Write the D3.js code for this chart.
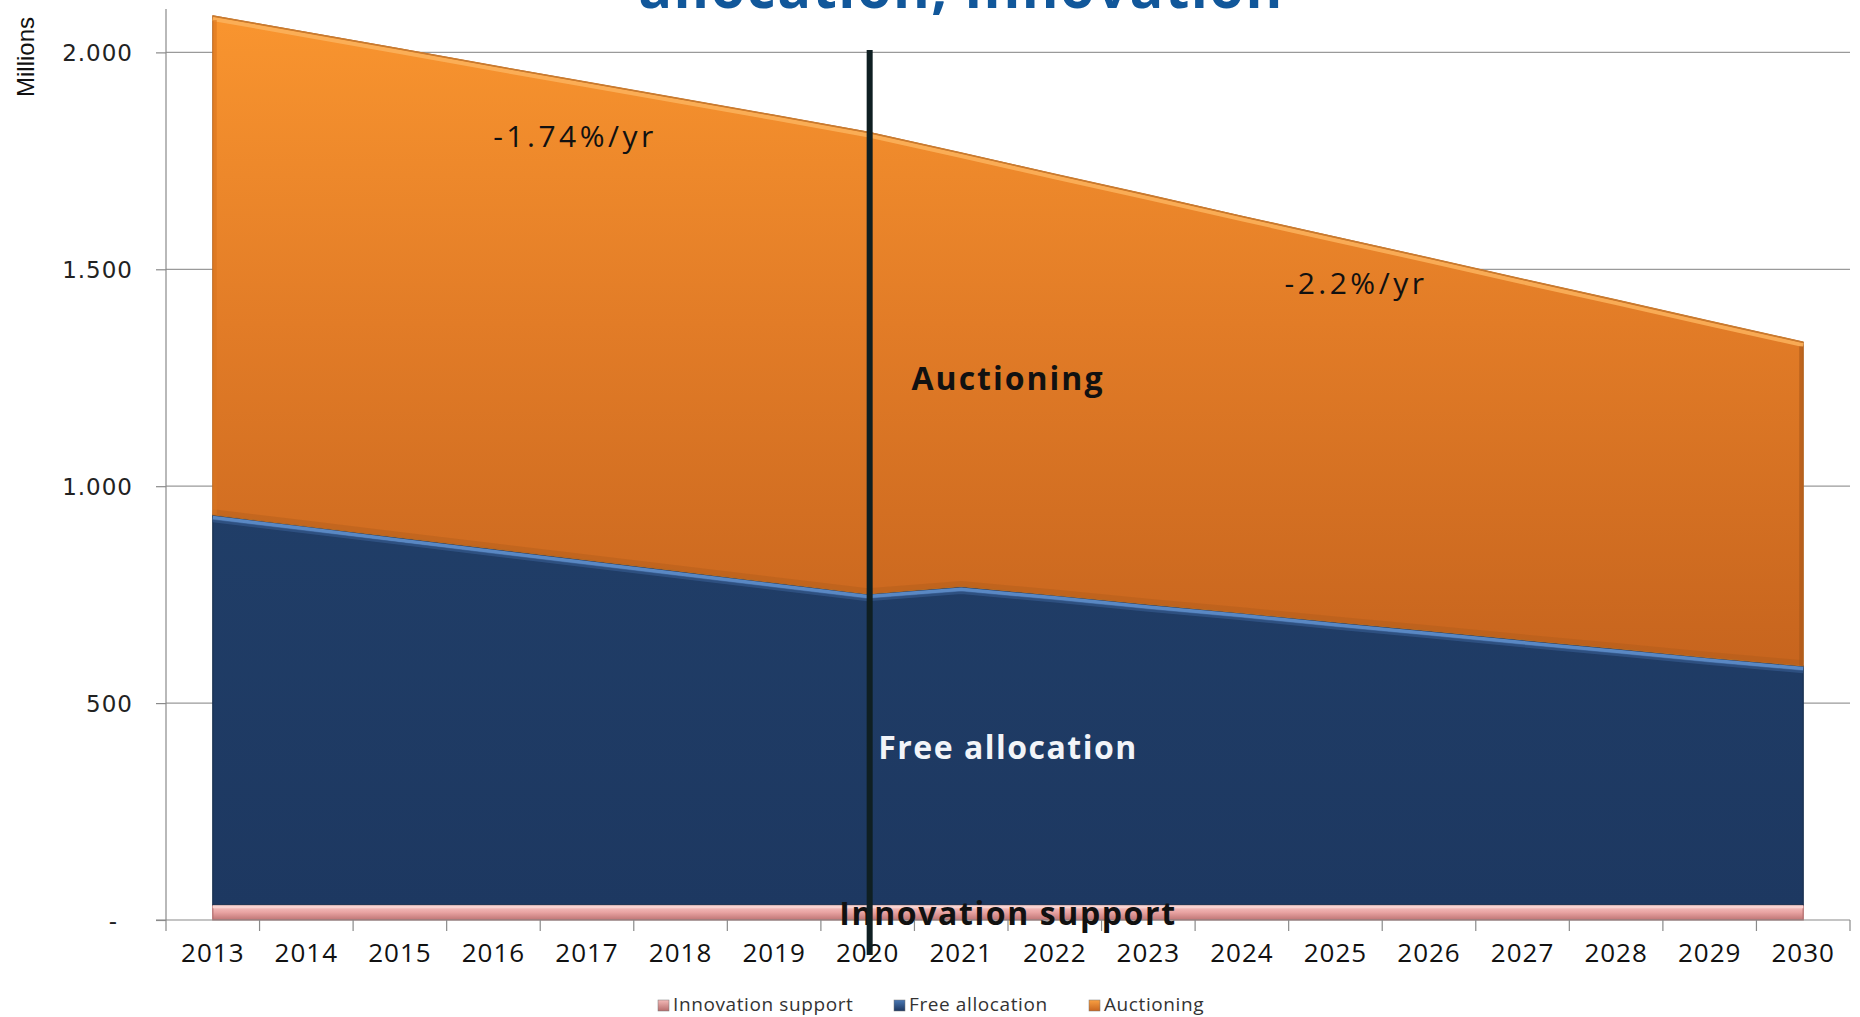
<!DOCTYPE html>
<html><head><meta charset="utf-8">
<script src="https://cdn.jsdelivr.net/npm/d3@7/dist/d3.min.js"></script>
<style>body{margin:0;background:#fff;overflow:hidden}svg{display:block}</style>
</head><body>
<svg id="c" width="1860" height="1017"></svg>
<script>
const years = [2013,2014,2015,2016,2017,2018,2019,2020,2021,2022,2023,2024,2025,2026,2027,2028,2029,2030];
const innovationSupport = [35,35,35,35,35,35,35,35,35,35,35,35,35,35,35,35,35,35];
const freeAllocation = [899,873,847,821,795,769,743,717,734,714,693,673,652,632,611,591,570,551];
const auctioning = [1150,1138,1126,1113,1101,1089,1077,1064,999,970,943,914,887,859,831,803,775,746];
const yTicks = [0,500,1000,1500,2000];
const seriesNames = ["Innovation support","Free allocation","Auctioning"];
const titleText = "allocation, innovation";
const rateLabels = ["-1.74%/yr","-2.2%/yr"];
const cutYear = 2020;

const svg = d3.select("#c");
const rows = years.map((y,i)=>({year:y, inn:innovationSupport[i], free:freeAllocation[i], auc:auctioning[i]}));
const keys = ["inn","free","auc"];
const stack = d3.stack().keys(keys)(rows);

const x = d3.scaleBand().domain(years).range([166,1850]).paddingInner(0).paddingOuter(0);
const cx = d => x(d) + x.bandwidth()/2;
const y = d3.scaleLinear().domain([0,2100]).range([920,9]);

const defs = svg.append("defs");
function grad(id, stops){
  const g = defs.append("linearGradient").attr("id",id).attr("gradientUnits","userSpaceOnUse")
    .attr("x1",0).attr("x2",0).attr("y1",stops.y1).attr("y2",stops.y2);
  stops.s.forEach(s=>g.append("stop").attr("offset",s[0]).attr("stop-color",s[1]));
}
grad("gAuc",{y1:15,y2:700,s:[[0,"#f9952f"],[0.45,"#e27c27"],[1,"#c4621d"]]});
grad("gFree",{y1:430,y2:910,s:[[0,"#213f69"],[1,"#1d3861"]]});
grad("gInn",{y1:905,y2:921,s:[[0,"#f7c9c7"],[0.45,"#e9a4a3"],[1,"#b96e6e"]]});
const lg = defs.append("linearGradient").attr("id","gAucL").attr("x1",0).attr("x2",0).attr("y1",0).attr("y2",1);
lg.append("stop").attr("offset",0).attr("stop-color","#f9a042");lg.append("stop").attr("offset",1).attr("stop-color","#c9651e");
const lb = defs.append("linearGradient").attr("id","gFreeL").attr("x1",0).attr("x2",0).attr("y1",0).attr("y2",1);
lb.append("stop").attr("offset",0).attr("stop-color","#4a78b4");lb.append("stop").attr("offset",1).attr("stop-color","#1d3760");
const lp = defs.append("linearGradient").attr("id","gInnL").attr("x1",0).attr("x2",0).attr("y1",0).attr("y2",1);
lp.append("stop").attr("offset",0).attr("stop-color","#f3b9b7");lp.append("stop").attr("offset",1).attr("stop-color","#b76c6c");

// gridlines
svg.append("g").selectAll("line").data(yTicks.filter(t=>t>0)).join("line")
  .attr("x1",166).attr("x2",1850).attr("y1",d=>y(d)).attr("y2",d=>y(d))
  .attr("stroke","#9a9a9a").attr("stroke-width",1.2);

// Title (cut off at the top edge, as in the reference)
svg.append("text").attr("x",961).attr("y",8).attr("text-anchor","middle")
  .attr("font-family","Open Sans").attr("font-weight",700).attr("font-size",56).attr("letter-spacing",1.5)
  .attr("fill","#11579a").text(titleText);

// areas
const area = d3.area().x(d=>cx(d.data.year)).y0(d=>y(d[0])).y1(d=>y(d[1]));
const fills = {inn:"url(#gInn)", free:"url(#gFree)", auc:"url(#gAuc)"};
const edges = {inn:"#b06a6a", free:"#18304f", auc:"#b86a25"};
svg.append("g").selectAll("path").data(stack).join("path")
  .attr("d",area).attr("fill",d=>fills[d.key]).attr("stroke",d=>edges[d.key]).attr("stroke-width",1.2);

// bevel highlights along top edges
const topLine = (off) => d3.line().x(d=>cx(d.data.year)).y(d=>y(d[1])+off);
const aucS = stack[2], freeS = stack[1], innS = stack[0];
svg.append("path").attr("d",d3.line().x(d=>cx(d.data.year)).y(d=>y(d[0])-3)(aucS))
  .attr("fill","none").attr("stroke","#a9581a").attr("stroke-width",5).attr("stroke-opacity",0.35);
svg.append("path").attr("d",topLine(3)(aucS)).attr("fill","none").attr("stroke","#fbb35d").attr("stroke-width",4).attr("stroke-opacity",0.85);
svg.append("path").attr("d",topLine(0)(aucS)).attr("fill","none").attr("stroke","#c97b30").attr("stroke-width",1.5);
svg.append("path").attr("d",topLine(3)(freeS)).attr("fill","none").attr("stroke","#5a88c3").attr("stroke-width",4);
svg.append("path").attr("d",topLine(6)(freeS)).attr("fill","none").attr("stroke","#34598c").attr("stroke-width",3).attr("stroke-opacity",0.7);
svg.append("path").attr("d",topLine(2)(innS)).attr("fill","none").attr("stroke","#f9d3d1").attr("stroke-width",3);

// left/right edges shading
const first = years[0], last = years[years.length-1];
svg.append("line").attr("x1",cx(first)+2).attr("x2",cx(first)+2).attr("y1",y(stack[2][0][1])+4).attr("y2",y(stack[2][0][0]))
  .attr("stroke","#d9741f").attr("stroke-width",4).attr("stroke-opacity",0.6);
svg.append("line").attr("x1",cx(last)-2).attr("x2",cx(last)-2).attr("y1",y(stack[2][17][1])+4).attr("y2",y(stack[2][17][0]))
  .attr("stroke","#a95719").attr("stroke-width",4).attr("stroke-opacity",0.6);

// Y axis
const yAxis = svg.append("g").attr("transform","translate(166,0)")
  .call(d3.axisLeft(y).tickValues(yTicks).tickSize(10).tickPadding(23)
    .tickFormat(d=> d===0 ? "-" : d3.format(",")(d).replace(/,/g,".")));
yAxis.select(".domain").attr("stroke","#8a8a8a").attr("stroke-width",1.2).attr("d","M0,9V920");
yAxis.selectAll(".tick line").attr("stroke","#8a8a8a").attr("stroke-width",1.2);
yAxis.selectAll(".tick text").attr("font-family","DejaVu Sans").attr("font-size",23)
  .attr("fill","#222").attr("letter-spacing",1).attr("dy","0.35em");
yAxis.selectAll(".tick").filter(d=>d===0).select("text").attr("x",-48);

// X axis
const xAxis = svg.append("g").attr("transform","translate(0,920)")
  .call(d3.axisBottom(x).tickSize(0).tickPadding(24));
xAxis.select(".domain").attr("stroke","#8a8a8a").attr("stroke-width",1.2).attr("d","M156,0H1850");
xAxis.selectAll(".tick text").attr("font-family","Open Sans").attr("font-size",26)
  .attr("fill","#111").attr("letter-spacing",1);
const bounds = years.map(d=>x(d)).concat([x(last)+x.bandwidth()]);
xAxis.append("g").selectAll("line").data(bounds).join("line")
  .attr("x1",d=>d).attr("x2",d=>d).attr("y1",0).attr("y2",11)
  .attr("stroke","#8a8a8a").attr("stroke-width",1.2);

// Millions label
svg.append("text").attr("transform","translate(34,57) rotate(-90)").attr("text-anchor","middle")
  .attr("font-family","Liberation Sans Narrow, Liberation Sans").attr("font-size",24).attr("fill","#111").text("Millions");

// rate annotations
svg.append("text").attr("x",575).attr("y",147).attr("text-anchor","middle")
  .attr("font-family","Open Sans").attr("font-size",30).attr("letter-spacing",3.5).attr("fill","#111").text(rateLabels[0]);
svg.append("text").attr("x",1356).attr("y",294).attr("text-anchor","middle")
  .attr("font-family","Open Sans").attr("font-size",30).attr("letter-spacing",3.5).attr("fill","#111").text(rateLabels[1]);

// series labels
const lab = (t, yy, col, ls) => svg.append("text").attr("x",1008).attr("y",yy).attr("text-anchor","middle")
  .attr("font-family","Open Sans").attr("font-weight",700).attr("font-size",32).attr("letter-spacing",ls)
  .attr("fill",col).text(t);
lab(seriesNames[2], 390, "#111", 2);
lab(seriesNames[1], 759, "#f2f4f8", 1.5);
lab(seriesNames[0], 925, "#111", 1.6);

// vertical divider at 2020
svg.append("line").attr("x1",cx(cutYear)+2).attr("x2",cx(cutYear)+2).attr("y1",50).attr("y2",955)
  .attr("stroke","#0f1f22").attr("stroke-width",6);

// legend
const legendX = [658, 894, 1089];
const legendFill = ["url(#gInnL)","url(#gFreeL)","url(#gAucL)"];
const leg = svg.append("g");
seriesNames.forEach((n,i)=>{
  leg.append("rect").attr("x",legendX[i]).attr("y",1000).attr("width",11).attr("height",11)
    .attr("fill",legendFill[i]).attr("stroke","#777").attr("stroke-width",0.5);
  leg.append("text").attr("x",legendX[i]+15).attr("y",1011).attr("font-family","Open Sans")
    .attr("font-size",19).attr("letter-spacing",0.6).attr("fill","#333").text(n);
});
</script>
</body></html>
